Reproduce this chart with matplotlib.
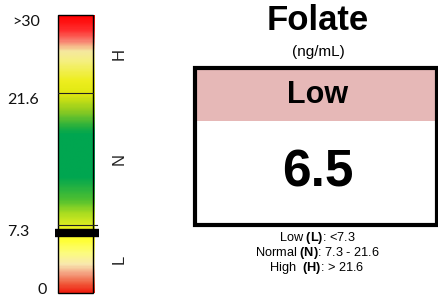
import matplotlib
matplotlib.use("Agg")
import matplotlib.pyplot as plt
from matplotlib.colors import LinearSegmentedColormap
from matplotlib.patches import Rectangle
from matplotlib.transforms import blended_transform_factory
import numpy as np

# data
analyte = "Folate"
unit = "(ng/mL)"
value = 6.5
status = "Low"
scale_min = 0
scale_max = 30
low_cut = 7.3
high_cut = 21.6
scale_labels = ["0", "7.3", "21.6", ">30"]
zone_names = ["L", "N", "H"]

plt.rcParams['mathtext.fontset'] = 'custom'
plt.rcParams['mathtext.rm'] = 'Liberation Sans'
plt.rcParams['mathtext.bf'] = 'Liberation Sans:bold'

W, H = 439, 297
fig = plt.figure(figsize=(W / 100, H / 100), dpi=100)

def fx(px):
    return px / W

def fy(py):
    return 1 - py / H

# gradient bar colours (bottom -> top)
stops = [(0.00, "#f02010"), (0.033, "#f06040"), (0.067, "#f4a080"), (0.10, "#f8e8b0"),
         (0.14, "#fcfc80"), (0.19, "#ffff30"), (0.233, "#e8f020"), (0.287, "#a8dc20"),
         (0.333, "#50c030"), (0.417, "#00a650"), (0.573, "#00a650"), (0.597, "#20ae40"),
         (0.657, "#90cc20"), (0.717, "#e0e810"), (0.767, "#eeee20"), (0.837, "#f5f080"),
         (0.873, "#f5e8a0"), (0.91, "#f88070"), (0.947, "#ff3030"), (1.0, "#ff0000")]
cmap = LinearSegmentedColormap.from_list("bar", stops)

ax = fig.add_axes([fx(58), fy(293), fx(95) - fx(58), fy(15) - fy(293)])
grad = np.linspace(scale_min, scale_max, 300).reshape(-1, 1)
ax.imshow(grad, extent=[0, 1, scale_min, scale_max], origin="lower", aspect="auto",
          cmap=cmap, vmin=scale_min, vmax=scale_max, interpolation="bilinear")
ax.set_xlim(0, 1)
ax.set_ylim(scale_min, scale_max)
ax.axis("off")
ax.add_patch(Rectangle((0, scale_min), 0.95, scale_max - scale_min, fill=False,
                       ec="black", lw=1.0, clip_on=False, zorder=3))
ax.plot([0, 0.95], [high_cut, high_cut], color="#222222", lw=0.8, zorder=3)
ax.plot([0, 1.05], [low_cut, low_cut], color="#222222", lw=0.8, zorder=3, clip_on=False)
ax.plot([-0.09, 1.1], [value, value], color="black", lw=6, solid_capstyle="butt",
        zorder=4, clip_on=False)

# scale labels
tr = blended_transform_factory(fig.transFigure, ax.transData)
lab_font = dict(family="Lato", fontsize=11.5, color="#111111")
ax.text(fx(12), scale_max, scale_labels[3], transform=tr, va="top", ha="left", **lab_font)
ax.text(fx(7), high_cut, scale_labels[2], transform=tr, va="top", ha="left", **lab_font)
ax.text(fx(7), low_cut, scale_labels[1], transform=tr, va="top", ha="left", **lab_font)
fig.text(fx(38), fy(297), scale_labels[0], va="bottom", ha="left", **lab_font)

# zone letters
mids = [(scale_min + low_cut) / 2, (low_cut + high_cut) / 2, (high_cut + scale_max) / 2]
for name, m in zip(zone_names, mids):
    ax.text(fx(119), m, name, transform=tr, rotation=90, ha="center", va="center",
            family="Liberation Sans", fontsize=12, color="#222222")

# title
fig.text(fx(318), fy(20), analyte, ha="center", va="center", family="Liberation Sans",
         fontweight="bold", fontsize=25)
fig.text(fx(318), fy(52), unit, ha="center", va="center", family="Liberation Sans",
         fontsize=11)

# result box
fig.patches.append(Rectangle((fx(195), fy(121)), fx(437) - fx(195), fy(69) - fy(121),
                             transform=fig.transFigure, fc="#e6b8b7", ec="none"))
fig.patches.append(Rectangle((fx(195), fy(225)), fx(437) - fx(195), fy(68) - fy(225),
                             transform=fig.transFigure, fill=False, ec="black", lw=3))
fig.text(fx(318), fy(95), status, ha="center", va="center", family="Liberation Sans",
         fontweight="bold", fontsize=22)
fig.text(fx(318), fy(173), f"{value}", ha="center", va="center", family="Liberation Sans",
         fontweight="bold", fontsize=37)

# reference ranges
ref_lines = [f"Low $\\mathbf{{(L)}}$: <{low_cut}",
             f"Normal $\\mathbf{{(N)}}$: {low_cut} - {high_cut}",
             f"High  $\\mathbf{{(H)}}$: > {high_cut}"]
for i, t in enumerate(ref_lines):
    fig.text(fx(317), fy(238 + 15 * i), t, ha="center", va="center",
             family="Liberation Sans", fontsize=9.2)

fig.savefig("out.png", dpi=100)
